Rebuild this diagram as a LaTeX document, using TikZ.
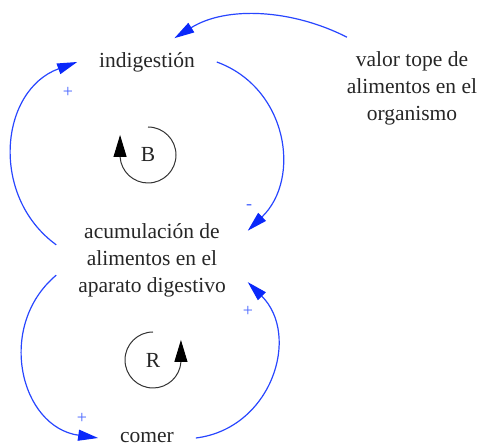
\documentclass[tikz,border=0pt]{standalone}
\usepackage{fontspec}
\setmainfont{Liberation Serif}
\usepackage{tikz}
\usetikzlibrary{arrows.meta}
\definecolor{linkblue}{RGB}{40,70,255}
\definecolor{headblue}{RGB}{10,40,250}
\definecolor{signblue}{RGB}{70,100,255}

\begin{document}
\begin{tikzpicture}[x=0.5pt,y=0.5pt,
    var/.style={align=center,inner xsep=6pt,inner ysep=2pt,outer sep=5pt,text=black!85,
      font=\rmfamily\fontsize{10.75}{13.5}\selectfont},
    loopname/.style={inner sep=0pt,text=black!85,font=\rmfamily\fontsize{10.75}{13.5}\selectfont},
    link/.style={linkblue,line width=0.6pt,-{Triangle[length=10pt,width=5.5pt,color=headblue]}},
    sign/.style={signblue,inner sep=0pt,font=\rmfamily\fontsize{9}{11}\selectfont},
    loopline/.style={black!80,line width=0.5pt,-{Triangle[length=11pt,width=6.5pt,color=black]}}]
  \useasboundingbox (0,0) rectangle (481,448);
  \node[var] (indig) at (147,386) {indigestión};
  \node[var] (valor) at (412,360) {valor tope de\\alimentos en el\\organismo};
  \node[var] (acum) at (152,188) {acumulación de\\alimentos en el\\aparato digestivo};
  \node[var] (comer) at (147,10) {comer};
  \draw[link] (valor.142) to[out=153,in=32,looseness=0.91] (indig.41);
  \draw[link] (indig.east) to[out=-20,in=44,looseness=1.12] (acum.17);
  \draw[link] (acum.171) to[out=144,in=200,looseness=1.15] (indig.west);
  \draw[link] (acum.189) to[out=220,in=172,looseness=1.2] (comer.west);
  \draw[link] (comer.east) to[out=7,in=-45,looseness=1.18] (acum.-13);
  \node[sign] (s1) at (68,356) {+};
  \node[sign] (s2) at (249,241) {-};
  \node[sign] (s3) at (82,30) {+};
  \node[sign] (s4) at (248,137) {+};
  % loop markers
  \node[loopname] (bal) at (148,293) {B};
  \draw[loopline] ([shift={(90:28)}]bal.center) arc[start angle=90,end angle=-176,radius=28] -- ++(0,22);
  \node[loopname] (rein) at (153,88) {R};
  \draw[loopline] ([shift={(90:28)}]rein.center) arc[start angle=90,end angle=356,radius=28] -- ++(0,22);
\end{tikzpicture}
\end{document}
